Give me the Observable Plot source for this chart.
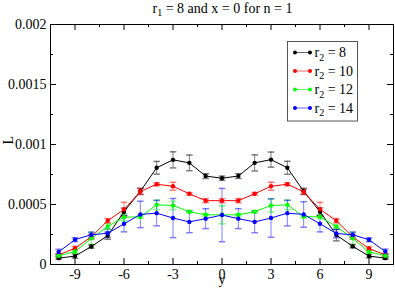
<!DOCTYPE html>
<html><head><meta charset="utf-8">
<script src="https://cdn.jsdelivr.net/npm/d3@7"></script>
<script src="https://cdn.jsdelivr.net/npm/@observablehq/plot@0.6"></script>
<style>body{margin:0;background:#fff}</style>
</head><body><div id="chart"></div>
<script>
// ---- data ----
const xs = [-10,-9,-8,-7,-6,-5,-4,-3,-2,-1,0,1,2,3,4,5,6,7,8,9,10];
const seriesR2 = ["8","10","12","14"];
const seriesColors = ["#000000","#ff0000","#00ff00","#0000ff"];
const L_r8  = [0.000053,0.00007,0.00015,0.00024,0.00044,0.00061,0.000806,0.000872,0.000847,0.000737,0.000719,0.000737,0.000847,0.000874,0.000806,0.00061,0.00044,0.000245,0.000152,0.00007,0.000053];
const E_r8  = [0.00001,0.000018,0.000014,0.00003,0.00003,0.000025,0.000053,0.000067,0.000065,0.00002,0.000018,0.00002,0.000067,0.000063,0.000054,0.000025,0.000032,0.000048,0.000014,0.000014,0.00001];
const L_r10 = [0.00008,0.000136,0.00023,0.000365,0.000458,0.000608,0.000669,0.000652,0.000589,0.000532,0.000532,0.000532,0.000589,0.000652,0.000669,0.000605,0.00046,0.000365,0.00023,0.000133,0.00008];
const E_r10 = [0.00001,0.000015,0.00002,0.000018,0.00006,0.000025,0.000012,0.000033,0.00001,0.000017,0.000017,0.000017,0.00001,0.000033,0.000012,0.000022,0.000058,0.000018,0.00002,0.000015,0.00001];
const L_r12 = [0.000073,0.000108,0.000218,0.000317,0.000394,0.000397,0.000497,0.000492,0.00044,0.000414,0.000414,0.000414,0.00044,0.000492,0.000497,0.0004,0.000397,0.000317,0.000218,0.000105,0.000073];
const E_r12 = [0.00001,0.000015,0.00005,0.000025,0.00003,0.000012,0.00004,0.000035,0.00001,0.00001,0.000075,0.00001,0.00001,0.000055,0.00004,0.00001,0.000015,0.00001,0.00005,0.00001,0.00001];
const L_r14 = [0.000105,0.000207,0.000248,0.00026,0.000339,0.000417,0.000428,0.000387,0.000355,0.000382,0.000412,0.000382,0.000355,0.000387,0.000428,0.000417,0.00034,0.000258,0.000248,0.000206,0.000108];
const E_r14 = [0.000022,0.000016,0.000022,0.000035,0.000067,0.00011,0.000106,0.000163,0.00009,0.000083,0.000222,0.000083,0.00009,0.00016,0.000106,0.000106,0.000068,0.000035,0.000022,0.000016,0.00002];
const xTicks = [-9,-6,-3,0,3,6,9];
const xMinor = [-10.5,-7.5,-4.5,-1.5,1.5,4.5,7.5,10.5];
const yTicks = [0,0.0005,0.001,0.0015,0.002];
const yMinor = [0.00025,0.00075,0.00125,0.00175];
const titleParts = ["r","1"," = 8 and x = 0 for n = 1"];
const xLabel = "y";
const yLabel = "L";

// ---- build rows ----
const values = [L_r8, L_r10, L_r12, L_r14];
const errors = [E_r8, E_r10, E_r12, E_r14];
const rows = [];
seriesR2.forEach((s, i) => xs.forEach((x, j) => rows.push({s, x, v: values[i][j], e: errors[i][j]})));

const W = 395, H = 292, mL = 50, mR = 2, mT = 24, mB = 28;
const iw = W - mL - mR, ih = H - mT - mB;
const font = "Liberation Serif, Times New Roman, serif";
const cap = {draw(ctx, size) { const r = Math.sqrt(size / Math.PI); ctx.moveTo(-r, 0); ctx.lineTo(r, 0); }};

const plot = Plot.plot({
  width: W, height: H, marginLeft: mL, marginRight: mR, marginTop: mT, marginBottom: mB,
  style: {fontFamily: font, fontSize: "14px", background: "white", color: "black"},
  x: {domain: [-10.5, 10.5]},
  y: {domain: [0, 0.002]},
  color: {domain: seriesR2, range: seriesColors},
  marks: [
    Plot.ruleX(rows, {x: "x", y1: d => d.v - d.e, y2: d => d.v + d.e, stroke: "s", strokeOpacity: 0.5}),
    Plot.dot(rows, {x: "x", y: d => d.v + d.e, symbol: cap, r: 3.3, stroke: "s", strokeOpacity: 0.5, fill: "none"}),
    Plot.dot(rows, {x: "x", y: d => d.v - d.e, symbol: cap, r: 3.3, stroke: "s", strokeOpacity: 0.5, fill: "none"}),
    Plot.line(rows, {x: "x", y: "v", z: "s", stroke: "s", strokeWidth: 1}),
    Plot.dot(rows, {x: "x", y: "v", fill: "s", r: 2.2}),
    // inward ticks
    Plot.tickX(xTicks, {x: d => d, insetTop: ih - 6, stroke: "black"}),
    Plot.tickX(xTicks, {x: d => d, insetBottom: ih - 6, stroke: "black"}),
    Plot.tickX(xMinor, {x: d => d, insetTop: ih - 3, stroke: "black"}),
    Plot.tickX(xMinor, {x: d => d, insetBottom: ih - 3, stroke: "black"}),
    Plot.tickY(yTicks, {y: d => d, insetRight: iw - 6, stroke: "black"}),
    Plot.tickY(yTicks, {y: d => d, insetLeft: iw - 6, stroke: "black"}),
    Plot.tickY(yMinor, {y: d => d, insetRight: iw - 3, stroke: "black"}),
    Plot.tickY(yMinor, {y: d => d, insetLeft: iw - 3, stroke: "black"}),
    Plot.frame({stroke: "black"}),
    Plot.axisX({ticks: xTicks, tickSize: 0, tickPadding: 4.5, tickFormat: d => String(d), label: null, fontSize: 14, fontFamily: font}),
    Plot.axisY({ticks: yTicks, tickSize: 0, tickPadding: 4, tickFormat: d => String(d), label: null, fontSize: 14, fontFamily: font}),
    Plot.text([xLabel], {frameAnchor: "bottom", dy: 19.5, text: d => d, fontSize: 14, fontFamily: font}),
    Plot.text([yLabel], {frameAnchor: "left", dx: -42, rotate: -90, text: d => d, fontSize: 14, fontFamily: font})
  ]
});

const svg = d3.select(plot);
// title
const t = svg.append("text").attr("x", mL + iw / 2 + 1).attr("y", 12.5).attr("text-anchor", "middle")
  .attr("font-family", font).attr("font-size", 14).attr("fill", "black");
t.append("tspan").text(titleParts[0]);
t.append("tspan").attr("font-size", 10).attr("dy", 3.5).text(titleParts[1]);
t.append("tspan").attr("dy", -3.5).text(titleParts[2]);

// legend
const lg = svg.append("g");
lg.append("rect").attr("x", 287.5).attr("y", 41.5).attr("width", 70).attr("height", 79.5)
  .attr("fill", "white").attr("stroke", "#555").attr("stroke-width", 1);
seriesR2.forEach((s, i) => {
  const y = 52.5 + i * 18.5;
  const c = seriesColors[i];
  lg.append("line").attr("x1", 295).attr("x2", 310).attr("y1", y).attr("y2", y).attr("stroke", c).attr("stroke-opacity", 0.6);
  lg.append("circle").attr("cx", 295).attr("cy", y).attr("r", 2).attr("fill", c);
  lg.append("circle").attr("cx", 310).attr("cy", y).attr("r", 2).attr("fill", c);
  const tx = lg.append("text").attr("x", 314.5).attr("y", y + 4.5).attr("text-anchor", "start")
    .attr("font-family", font).attr("font-size", 14).attr("fill", "black");
  tx.append("tspan").text("r");
  tx.append("tspan").attr("font-size", 10).attr("dy", 3.5).text("2");
  tx.append("tspan").attr("dy", -3.5).text(" = " + s);
});

document.getElementById("chart").appendChild(plot);
</script>
</body></html>
